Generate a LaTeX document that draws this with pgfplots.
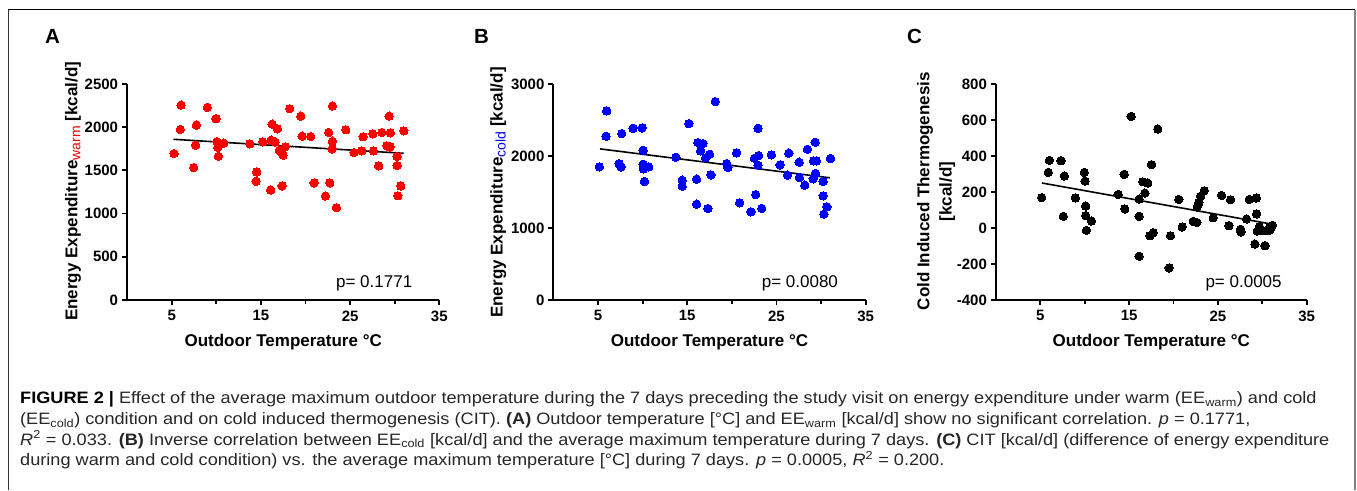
\documentclass[border=0pt]{standalone}
\usepackage{fontspec}
\setmainfont{Liberation Sans}
\usepackage{pgfplots}
\pgfplotsset{compat=1.18}
\usepackage{graphicx}

\pgfplotstableread{
x y
5.26 1695
6.05 2256
5.97 1974
7.47 1532
7.69 1792
7.77 2024
9.00 2229
9.97 2098
10.08 1834
10.16 1765
10.23 1664
10.83 1815
13.75 1807
14.53 1482
14.46 1374
15.21 1830
16.14 1850
16.25 2036
16.10 1273
16.59 1827
16.85 1981
17.07 1730
17.37 1320
17.49 1676
17.71 1772
18.23 2214
19.47 2128
19.62 1896
20.59 1892
20.96 1355
22.23 1204
22.60 1939
22.72 1355
23.02 2245
23.02 1838
22.98 1749
23.47 1068
24.51 1970
25.45 1707
26.31 1726
26.46 1889
27.54 1923
27.62 1726
28.21 1552
28.55 1939
29.37 2128
29.52 1935
29.11 1784
29.48 1772
30.27 1660
30.27 1556
30.68 1320
30.35 1207
31.02 1958
}\dataA

\pgfplotstableread{
x y
5.15 1849
5.97 2626
5.90 2275
7.66 2312
7.36 1895
7.58 1849
8.93 2385
9.94 2390
10.06 2080
10.06 1886
10.09 1821
10.69 1849
10.21 1646
13.73 1983
14.44 1664
14.44 1581
15.19 2450
16.05 1678
16.05 1331
16.20 2187
16.76 2173
16.50 2071
17.06 1974
17.51 2025
17.66 1738
17.32 1271
18.15 2755
19.42 1895
19.57 1840
20.54 2043
20.88 1350
22.15 1225
22.53 1969
22.94 2385
23.01 2006
22.94 1872
22.68 1465
23.35 1271
24.44 2016
25.41 1877
26.39 2039
26.24 1734
27.55 1914
27.58 1701
28.18 1595
28.48 2094
29.34 2191
29.16 1932
29.49 1932
29.38 1757
29.12 1683
30.24 1646
30.24 1447
30.66 1294
30.32 1193
31.07 1965
}\dataB

\pgfplotstableread{
x y
5.15 169
5.90 309
6.02 376
7.33 374
7.71 289
7.59 65
8.95 167
9.96 309
10.04 261
10.11 122
10.11 69
10.75 39
10.19 -13
13.76 187
14.44 298
14.51 106
15.23 620
16.13 161
16.13 65
16.13 -157
16.54 257
17.10 250
16.77 194
17.52 352
17.71 -26
17.33 -43
18.23 550
19.66 -43
19.51 -222
20.60 159
20.98 6
22.22 37
22.63 31
22.67 117
22.86 141
23.05 176
23.46 207
24.47 57
25.41 181
26.43 157
26.24 13
27.56 -7
27.59 -22
28.23 50
28.53 159
29.32 167
29.36 78
29.17 -89
29.44 -17
29.66 7
30.00 -15
30.30 -98
30.56 -15
30.86 -11
31.13 15
30.80 4
}\dataC

\pgfplotsset{
  myax/.style={
    scale only axis, width=312.2pt, height=216pt, anchor=south west,
    xmin=0, xmax=35, xtick={5,15,25,35}, minor xtick={10,20,30},
    axis lines*=left, axis line style={line width=2pt, -},
    tick align=outside, major tick length=5pt, minor tick length=4pt,
    tick style={black, line width=1.8pt},
    ticklabel style={font=\fontsize{15}{15}\selectfont\bfseries},
    xticklabel style={yshift=-2pt},
    yticklabel style={xshift=-0.5pt},
    /pgf/number format/assume math mode=true,
    /pgf/number format/1000 sep={},
    xlabel={Outdoor Temperature °C},
    every axis x label/.style={at={(axis description cs:0.5,0)}, anchor=base, yshift=-46.7pt, font=\fontsize{17}{17}\selectfont\bfseries},
    clip=false,
  },
  dots/.style={only marks, mark=*, mark size=4.2pt, mark options={fill=#1, draw=#1, line width=0pt}},
  fit/.style={black, line width=1.6pt},
}

\newcommand{\capline}[1]{\scalebox{1.10}[1]{#1}}

\begin{document}
\begin{tikzpicture}[x=1pt, y=1pt]
\path[use as bounding box] (0,0) rectangle (1357,490);
% frame
\draw[black, line width=1pt] (8,480) -- (1355,480);
\draw[black!80, line width=1pt] (8,0) -- (8,480);
\draw[black!50, line width=2pt] (1355,0) -- (1355,480);

% panel letters
\node[anchor=base west, inner sep=0, font=\fontsize{20.5}{20.5}\selectfont\bfseries] at (45,446) {A};
\node[anchor=base west, inner sep=0, font=\fontsize{20.5}{20.5}\selectfont\bfseries] at (474,446) {B};
\node[anchor=base west, inner sep=0, font=\fontsize{20.5}{20.5}\selectfont\bfseries] at (907,446) {C};

% y labels
\node[rotate=90, anchor=base, inner sep=0, font=\fontsize{17}{17}\selectfont\bfseries] at (77.3,298.6)
  {Energy Expenditure{\fontsize{14}{14}\selectfont\mdseries\color{red}\raisebox{-3pt}{warm}} [kcal/d]};
\node[rotate=90, anchor=base, inner sep=0, font=\fontsize{17}{17}\selectfont\bfseries] at (502.7,297.5)
  {Energy Expenditure{\fontsize{14}{14}\selectfont\mdseries\color{blue}\raisebox{-3pt}{cold}} [kcal/d]};
\node[rotate=90, anchor=base, inner sep=0, font=\fontsize{17}{17}\selectfont\bfseries] at (929.3,298.8)
  {Cold Induced Thermogenesis};
\node[rotate=90, anchor=base, inner sep=0, font=\fontsize{17}{17}\selectfont\bfseries] at (951.5,298.3)
  {[kcal/d]};

% Panel A
\begin{axis}[myax, at={(127.1pt,190pt)}, ymin=0, ymax=2500, ytick={0,500,...,2500}]
\addplot[dots=red] table[x=x, y=y] {\dataA};
\addplot[fit] coordinates {(5.2,1860) (31,1698)};
\node[anchor=base east, inner sep=0, font=\fontsize{17}{17}\selectfont] at (rel axis cs:0.914,0.06) {p= 0.1771};
\end{axis}

% Panel B
\begin{axis}[myax, at={(553.4pt,190pt)}, ymin=0, ymax=3000, ytick={0,1000,2000,3000}]
\addplot[dots=blue] table[x=x, y=y] {\dataB};
\addplot[fit] coordinates {(5.22,2099) (30.99,1697)};
\node[anchor=base east, inner sep=0, font=\fontsize{17}{17}\selectfont] at (rel axis cs:0.912,0.058) {p= 0.0080};
\end{axis}

% Panel C
\begin{axis}[myax, at={(995.9pt,190pt)}, width=310.8pt, ymin=-400, ymax=800, ytick={-400,-200,...,800}]
\addplot[dots=black] table[x=x, y=y] {\dataC};
\addplot[fit] coordinates {(5.19,250) (31.02,22)};
\node[anchor=base east, inner sep=0, font=\fontsize{17}{17}\selectfont] at (rel axis cs:0.920,0.06) {p= 0.0005};
\end{axis}

% caption
\begin{scope}[every node/.style={anchor=base west, inner sep=0, text=black!85, font=\fontsize{16.5}{16.5}\selectfont}]
\node at (20,86) {\capline{\textbf{\color{black}FIGURE 2 |} Effect of the average maximum outdoor temperature during the 7 days preceding the study visit on energy expenditure under warm (EE\textsubscript{warm}) and cold}};
\node at (20,65.4) {\capline{(EE\textsubscript{cold}) condition and on cold induced thermogenesis (CIT). \textbf{(A)} Outdoor temperature [°C] and EE\textsubscript{warm} [kcal/d] show no significant correlation. \textit{p} = 0.1771,}};
\node at (20,44.8) {\capline{\textit{R}\textsuperscript{2} = 0.033. \textbf{(B)} Inverse correlation between EE\textsubscript{cold} [kcal/d] and the average maximum temperature during 7 days. \textbf{(C)} CIT [kcal/d] (difference of energy expenditure}};
\node at (20,24.2) {\capline{during warm and cold condition) vs. the average maximum temperature [°C] during 7 days. \textit{p} = 0.0005, \textit{R}\textsuperscript{2} = 0.200.}};
\end{scope}
\end{tikzpicture}
\end{document}
